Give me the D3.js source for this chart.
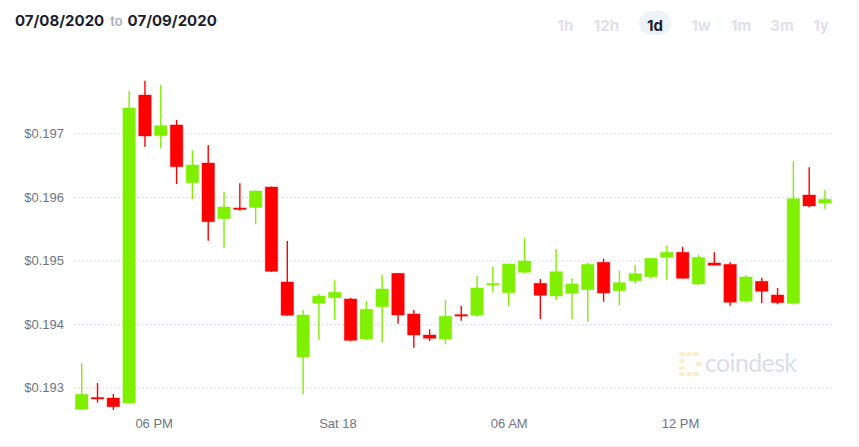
<!DOCTYPE html>
<html>
<head>
<meta charset="utf-8">
<script src="https://cdn.jsdelivr.net/npm/d3@7"></script>
<style>
  body { margin: 0; background: #fff; }
  svg { display: block; font-family: "Liberation Sans", Arial, sans-serif; }
</style>
</head>
<body>
<div id="container"></div>
<script>
/* CONSTANTS AND GLOBALS */
const width = 859;
const height = 447;
const gridLeft = 74;
const gridRight = 833;

/* DATA */
// 48 candles
const open = [0.192660, 0.192846, 0.192838, 0.192760, 0.197602, 0.196962, 0.197131, 0.196223, 0.196533, 0.195657,
  0.195826, 0.195833, 0.196156, 0.194662, 0.193483, 0.194327, 0.194415, 0.194395, 0.193766, 0.194274,
  0.194799, 0.194159, 0.193829, 0.193761, 0.194149, 0.194138, 0.194620, 0.194494, 0.194815, 0.194642,
  0.194442, 0.194484, 0.194541, 0.194972, 0.194525, 0.194682, 0.194745, 0.195050, 0.195129, 0.194631,
  0.194961, 0.194940, 0.194363, 0.194673, 0.194458, 0.194327, 0.196030, 0.195904];
const close = [0.192896, 0.192841, 0.192701, 0.197398, 0.196958, 0.197120, 0.196475, 0.196502, 0.195610, 0.195841,
  0.195814, 0.196093, 0.194830, 0.194138, 0.194143, 0.194442, 0.194500, 0.193745, 0.194233, 0.194552,
  0.194143, 0.193829, 0.193777, 0.194123, 0.194138, 0.194568, 0.194638, 0.194945, 0.194992, 0.194453,
  0.194824, 0.194631, 0.194940, 0.194489, 0.194651, 0.194792, 0.195035, 0.195129, 0.194720, 0.195050,
  0.194925, 0.194343, 0.194741, 0.194516, 0.194337, 0.195972, 0.195857, 0.195962];
const high = [0.193384, 0.193074, 0.192901, 0.197665, 0.197827, 0.197759, 0.197209, 0.196733, 0.196816, 0.196082,
  0.196214, 0.196101, 0.196164, 0.195307, 0.194222, 0.194473, 0.194689, 0.194410, 0.194363, 0.194777,
  0.194803, 0.194222, 0.193918, 0.194379, 0.194285, 0.194756, 0.194903, 0.194953, 0.195354, 0.194709,
  0.195181, 0.194720, 0.194965, 0.195028, 0.194835, 0.194929, 0.195039, 0.195228, 0.195217, 0.195087,
  0.195129, 0.194972, 0.194772, 0.194730, 0.194568, 0.196564, 0.196465, 0.196109];
const low = [0.192649, 0.192764, 0.192649, 0.192739, 0.196789, 0.196764, 0.196203, 0.195967, 0.195311, 0.195201,
  0.195783, 0.195569, 0.194819, 0.194132, 0.192896, 0.193755, 0.194069, 0.193730, 0.193750, 0.193714,
  0.194006, 0.193629, 0.193734, 0.193682, 0.194053, 0.194116, 0.194500, 0.194285, 0.194803, 0.194080,
  0.194379, 0.194075, 0.194038, 0.194352, 0.194300, 0.194635, 0.194714, 0.194693, 0.194714, 0.194615,
  0.194922, 0.194289, 0.194337, 0.194327, 0.194311, 0.194305, 0.195837, 0.195805];

const yTicks = [0.193, 0.194, 0.195, 0.196, 0.197];
const xTickPos = [4.55, 16.17, 27.0, 37.83];
const xTickLabels = ["06 PM", "Sat 18", "06 AM", "12 PM"];
const ranges = ["1h", "12h", "1d", "1w", "1m", "3m", "1y"];
const rangeX = [565.5, 606.5, 655, 701, 741, 782, 821];

const data = open.map((o, i) => ({ i, o, c: close[i], h: high[i], l: low[i] }));

/* SCALES */
const xScale = d3.scaleLinear()
  .domain([0, data.length - 1])
  .range([81.7, 825]);

const yScale = d3.scaleLinear()
  .domain([0.193, 0.197])
  .range([387.7, 133.3]);

/* HTML ELEMENTS */
const svg = d3.select("#container")
  .append("svg")
  .attr("width", width)
  .attr("height", height);

// frame lines
svg.append("line")
  .attr("x1", 0).attr("x2", width)
  .attr("y1", 446.5).attr("y2", 446.5)
  .attr("stroke", "#eef0f6");
svg.append("line")
  .attr("x1", 857.5).attr("x2", 857.5)
  .attr("y1", 0).attr("y2", height)
  .attr("stroke", "#eef0f6");

// header dates
const head = svg.append("text")
  .attr("x", 15)
  .attr("y", 26)
  .style("font-family", "Inter, 'Noto Sans', sans-serif");
head.append("tspan")
  .attr("font-weight", 700).attr("font-size", 15).attr("fill", "#1b1e2e")
  .text("07/08/2020");
head.append("tspan")
  .attr("font-weight", 600).attr("font-size", 13).attr("fill", "#aab0c0")
  .attr("dx", 6)
  .text("to");
head.append("tspan")
  .attr("font-weight", 700).attr("font-size", 15).attr("fill", "#1b1e2e")
  .attr("dx", 5)
  .text("07/09/2020");

// range buttons
svg.append("rect")
  .attr("x", 639).attr("y", 11)
  .attr("width", 32).attr("height", 24)
  .attr("rx", 12)
  .attr("fill", "#eef2f9");

svg.selectAll(".range")
  .data(ranges)
  .join("text")
  .attr("class", "range")
  .attr("x", (d, i) => rangeX[i])
  .attr("y", 30.5)
  .attr("text-anchor", "middle")
  .style("font-family", "Inter, 'Noto Sans', sans-serif")
  .attr("font-size", 15)
  .attr("font-weight", 700)
  .attr("fill", d => d === "1d" ? "#1b1e2e" : "#dfe1ea")
  .text(d => d);

// y axis + grid
const yAxis = svg.append("g")
  .attr("class", "y-axis")
  .attr("transform", `translate(${gridLeft},0)`)
  .call(d3.axisLeft(yScale)
    .tickValues(yTicks)
    .tickSize(-(gridRight - gridLeft))
    .tickPadding(10)
    .tickFormat(d => "$" + d3.format(".3f")(d)));
yAxis.select(".domain").remove();
yAxis.selectAll("line")
  .attr("stroke", "#d6dcee")
  .attr("stroke-dasharray", "2,2");
yAxis.selectAll("text")
  .attr("fill", "#6f7585")
  .attr("font-size", 13)
  .style("font-family", "'Liberation Sans', Arial, sans-serif");

// x axis
const xAxis = svg.append("g")
  .attr("class", "x-axis")
  .attr("transform", "translate(0,410)")
  .call(d3.axisBottom(xScale)
    .tickValues(xTickPos)
    .tickSize(0)
    .tickPadding(9)
    .tickFormat((d, i) => xTickLabels[i]));
xAxis.select(".domain").remove();
xAxis.selectAll("text")
  .attr("fill", "#6f7585")
  .attr("font-size", 13)
  .style("font-family", "'Liberation Sans', Arial, sans-serif");

// watermark
const mark = svg.append("g").attr("fill", "#fdecca");
[[679, 352], [686, 352], [693, 352], [679, 359], [679, 366], [679, 372], [686, 372], [693, 372], [696, 362]]
  .forEach(p => mark.append("rect")
    .attr("x", p[0]).attr("y", p[1])
    .attr("width", 6).attr("height", 4)
    .attr("rx", 2));
svg.append("text")
  .attr("x", 705)
  .attr("y", 371.5)
  .attr("font-size", 25)
  .attr("textLength", 92)
  .attr("fill", "#dcdee5")
  .style("font-family", "Lato, 'Open Sans', sans-serif")
  .text("coindesk");

// candles
const candleW = 12.5;
const color = d => d.c >= d.o ? "#7ef000" : "#ff0000";

const candles = svg.append("g")
  .selectAll("g")
  .data(data)
  .join("g");

candles.append("line")
  .attr("x1", d => xScale(d.i))
  .attr("x2", d => xScale(d.i))
  .attr("y1", d => yScale(d.h))
  .attr("y2", d => yScale(d.l))
  .attr("stroke", color)
  .attr("stroke-width", 1.4);

candles.append("rect")
  .attr("x", d => xScale(d.i) - candleW / 2)
  .attr("y", d => yScale(Math.max(d.o, d.c)))
  .attr("width", candleW)
  .attr("height", d => Math.max(1.5, Math.abs(yScale(d.o) - yScale(d.c))))
  .attr("fill", color)
  .attr("stroke", color)
  .attr("stroke-opacity", 0.4)
  .attr("stroke-width", 1);
</script>
</body>
</html>
